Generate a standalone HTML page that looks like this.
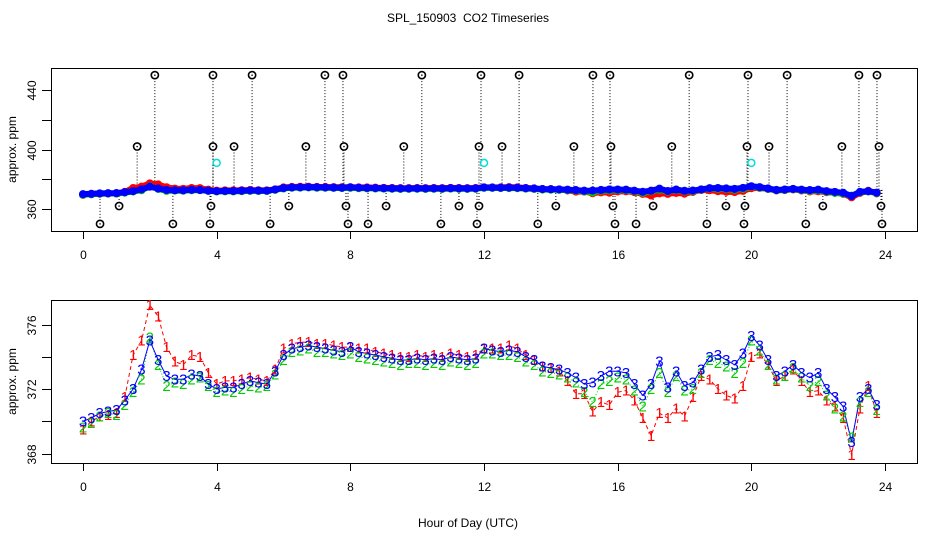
<!DOCTYPE html>
<html><head><meta charset="utf-8"><style>
html,body{margin:0;padding:0;background:#fff}
svg{display:block;font-family:"Liberation Sans",sans-serif}
</style></head><body>
<svg id="chart" width="936" height="540" viewBox="0 0 936 540">
<text x="468" y="22" font-size="12" text-anchor="middle" style="white-space:pre">SPL_150903  CO2 Timeseries</text>
<text x="468" y="527" font-size="12" text-anchor="middle">Hour of Day (UTC)</text>
<g id="topPanel"></g>
<g id="botPanel"></g>
</svg>
<script>
const hours = [0,0.25,0.5,0.75,1,1.25,1.5,1.75,2,2.25,2.5,2.75,3,3.25,3.5,3.75,
4,4.25,4.5,4.75,5,5.25,5.5,5.75,6,6.25,6.5,6.75,7,7.25,7.5,7.75,
8,8.25,8.5,8.75,9,9.25,9.5,9.75,10,10.25,10.5,10.75,11,11.25,11.5,11.75,
12,12.25,12.5,12.75,13,13.25,13.5,13.75,14,14.25,14.5,14.75,15,15.25,15.5,15.75,
16,16.25,16.5,16.75,17,17.25,17.5,17.75,18,18.25,18.5,18.75,19,19.25,19.5,19.75,
20,20.25,20.5,20.75,21,21.25,21.5,21.75,22,22.25,22.5,22.75,23,23.25,23.5,23.75];
const series1 = [369.5,370.0,370.3,370.4,370.5,371.5,374.1,375.0,377.2,376.5,374.6,373.7,373.5,374.1,374.0,373.0,
372.3,372.5,372.5,372.6,372.7,372.6,372.5,373.2,374.5,374.8,374.9,374.9,374.8,374.8,374.7,374.6,
374.6,374.5,374.5,374.3,374.2,374.1,374.0,374.0,374.1,374.0,374.1,374.0,374.2,374.1,374.0,374.1,
374.5,374.5,374.5,374.7,374.5,374.1,373.8,373.4,373.3,373.1,372.5,371.7,371.7,370.6,371.2,371.0,
371.8,371.9,371.3,370.2,369.1,370.5,370.2,370.8,370.3,371.5,372.8,372.6,372.0,371.6,371.4,372.2,
374.0,374.2,373.5,372.5,372.8,373.2,372.5,371.8,371.9,371.3,370.9,370.2,367.9,370.8,372.2,370.5];
const series2 = [369.6,369.9,370.3,370.5,370.4,371.0,371.8,372.6,375.2,373.5,372.2,372.4,372.3,372.6,372.7,372.2,
371.8,371.9,371.8,372.0,372.2,372.1,372.2,372.9,373.8,374.3,374.4,374.5,374.3,374.3,374.2,374.1,
374.2,374.0,373.9,373.8,373.7,373.6,373.5,373.6,373.6,373.5,373.6,373.5,373.7,373.6,373.5,373.6,
374.2,374.2,374.1,374.1,374.0,373.7,373.5,373.1,373.0,372.9,372.7,372.4,371.8,371.2,372.3,372.5,
372.7,372.6,371.9,370.9,372.0,373.0,371.8,372.8,371.9,372.0,373.0,373.8,373.6,373.4,373.0,373.6,
375.0,374.4,373.5,372.6,372.8,373.3,372.7,372.2,372.5,371.6,370.8,370.3,369.0,371.2,371.8,370.7];
const series3 = [370.0,370.2,370.5,370.6,370.7,371.3,372.0,373.2,375.0,373.8,372.8,372.6,372.6,372.9,372.8,372.3,
372.0,372.1,372.1,372.3,372.5,372.4,372.3,373.1,374.1,374.5,374.6,374.7,374.6,374.5,374.4,374.3,
374.6,374.3,374.2,374.1,374.0,373.9,373.8,373.8,373.9,373.8,373.9,373.8,374.0,373.9,373.8,373.9,
374.5,374.4,374.3,374.4,374.3,374.0,373.8,373.4,373.3,373.2,373.0,372.7,372.3,372.4,372.8,373.1,
373.1,373.0,372.3,371.6,372.3,373.7,372.1,373.1,372.2,372.4,373.2,374.0,374.1,373.8,373.5,374.2,
375.3,374.7,373.8,372.8,373.1,373.5,373.0,372.7,373.0,372.0,371.5,370.9,368.7,371.5,372.0,371.0];
const outlierHours = [2.15,3.89,5.06,7.24,7.78,10.14,11.91,13.05,15.26,15.77,18.14,19.90,21.07,23.22,23.76,
1.62,3.89,4.52,6.67,7.81,9.6,11.85,12.54,14.69,15.80,17.62,19.87,20.53,22.71,23.82,
1.08,3.83,6.16,7.87,9.07,11.25,11.85,14.15,15.86,17.06,19.24,19.81,22.14,23.88,
0.51,2.69,3.80,5.60,7.93,8.53,10.71,11.79,13.61,15.92,16.55,18.67,19.78,21.63,23.91];
const outlierValues = [450,450,450,450,450,450,450,450,450,450,450,450,450,450,450,
402,402,402,402,402,402,402,402,402,402,402,402,402,402,402,
362,362,362,362,362,362,362,362,362,362,362,362,362,362,
350,350,350,350,350,350,350,350,350,350,350,350,350,350,350];
const cyanHours = [4.0, 12.0, 20.0];
const cyanValues = [391, 391, 391];
const xTicks = [0,4,8,12,16,20,24];
const topYTicks = [360,380,400,420,440];
const topYLabels = ["360","","400","","440"];
const botYTicks = [368,370,372,374,376];
const botYLabels = ["368","","372","","376"];

const NS="http://www.w3.org/2000/svg";
function mk(tag,attrs,parent){const e=document.createElementNS(NS,tag);for(const k in attrs)e.setAttribute(k,attrs[k]);parent.appendChild(e);return e;}
const xS = h => 83 + h*(885-83)/24;
const yTopS = v => 209 - (v-360)*59.5/40;
const yBotS = v => 389 - (v-372)*64.5/4;

function axes(g, yTop0, yBot0, yFn, ticks, labels, prefix){
  const box=mk('rect',{x:51.5,y:yTop0+0.5,width:866,height:yBot0-yTop0,fill:'none',stroke:'#000','stroke-width':1},g);
  
  
  xTicks.forEach(t=>{
    const x=Math.round(xS(t))+0.5;
    const l=mk('line',{x1:x,x2:x,y1:yBot0,y2:yBot0+8,stroke:'#000'},g);
    
    
    const tx=mk('text',{x:x,y:yBot0+28,'font-size':12,'text-anchor':'middle'},g);
    tx.textContent=t;
    
    
  });
  ticks.forEach((t,i)=>{
    const y=Math.round(yFn(t))+0.5;
    const l=mk('line',{x1:42,x2:51,y1:y,y2:y,stroke:'#000'},g);
    
    
    if(labels[i]){
      const tx=mk('text',{x:36,y:y,'font-size':12,'text-anchor':'middle',transform:`rotate(-90 36 ${y})`},g);
      tx.textContent=labels[i];
      
      
    }
  });
  const cy=(yTop0+yBot0)/2;
  const yl=mk('text',{x:16,y:cy,'font-size':12,'text-anchor':'middle',transform:`rotate(-90 16 ${cy})`},g);
  yl.textContent='approx. ppm';
  
  
}

function segments(){
  const segs=[];let cur=[];
  hours.forEach((h,i)=>{ if(cur.length && h-hours[cur[cur.length-1]]>0.3){segs.push(cur);cur=[];} cur.push(i);});
  if(cur.length)segs.push(cur);return segs;
}

const topG=document.getElementById('topPanel');
const botG=document.getElementById('botPanel');
axes(topG,68,231,yTopS,topYTicks,topYLabels,'top');
axes(botG,300,463,yBotS,botYTicks,botYLabels,'bottom');

outlierHours.forEach((h,i)=>{
  const v=outlierValues[i];
  const x=xS(h);
  const ln=mk('line',{x1:x,x2:x,y1:yTopS(v),y2:yTopS(373),stroke:'#000','stroke-width':1,'stroke-dasharray':'1,2'},topG);
  
  
});
const cols=['#ff0000','#00cc00','#0000ff'];
const all=[series1,series2,series3];
const names=['series-1','series-2','series-3'];
all.forEach((s,k)=>{
  segments().forEach(seg=>{
    const pts=seg.map(i=>xS(hours[i]).toFixed(1)+','+yTopS(s[i]).toFixed(1)).join(' ');
    const pl=mk('polyline',{points:pts,fill:'none',stroke:cols[k],'stroke-width':6,'stroke-linejoin':'round','stroke-linecap':'round'},topG);
    
    
  });
  s.forEach((v,i)=>{
    const c=mk('circle',{cx:xS(hours[i]),cy:yTopS(v),r:3.3,fill:'none',stroke:cols[k],'stroke-width':1.5},topG);
    
    
  });
});
outlierHours.forEach((h,i)=>{
  const c=mk('circle',{cx:xS(h),cy:yTopS(outlierValues[i]),r:3.6,fill:'#fff',stroke:'#000','stroke-width':1.6},topG);
  
  
  const d=mk('circle',{cx:xS(h),cy:yTopS(outlierValues[i]),r:0.8,fill:'#000'},topG);
  
  
});
cyanHours.forEach((h,i)=>{
  const c=mk('circle',{cx:xS(h),cy:yTopS(cyanValues[i]),r:3.5,fill:'none',stroke:'#00dddd','stroke-width':1.5},topG);
  
  
});

const dashes=['4,3','1,2','none'];
const chars=['1','2','3'];
all.forEach((s,k)=>{
  segments().forEach(seg=>{
    const pts=seg.map(i=>xS(hours[i]).toFixed(1)+','+yBotS(s[i]).toFixed(1)).join(' ');
    const pl=mk('polyline',{points:pts,fill:'none',stroke:cols[k],'stroke-width':1,'stroke-dasharray':dashes[k]},botG);
    
    
  });
});
all.forEach((s,k)=>{
  s.forEach((v,i)=>{
    const t=mk('text',{x:xS(hours[i]),y:yBotS(v)+5,'font-size':15,'text-anchor':'middle',fill:cols[k]},botG);
    t.textContent=chars[k];
    
    
  });
});
</script>
</body></html>
